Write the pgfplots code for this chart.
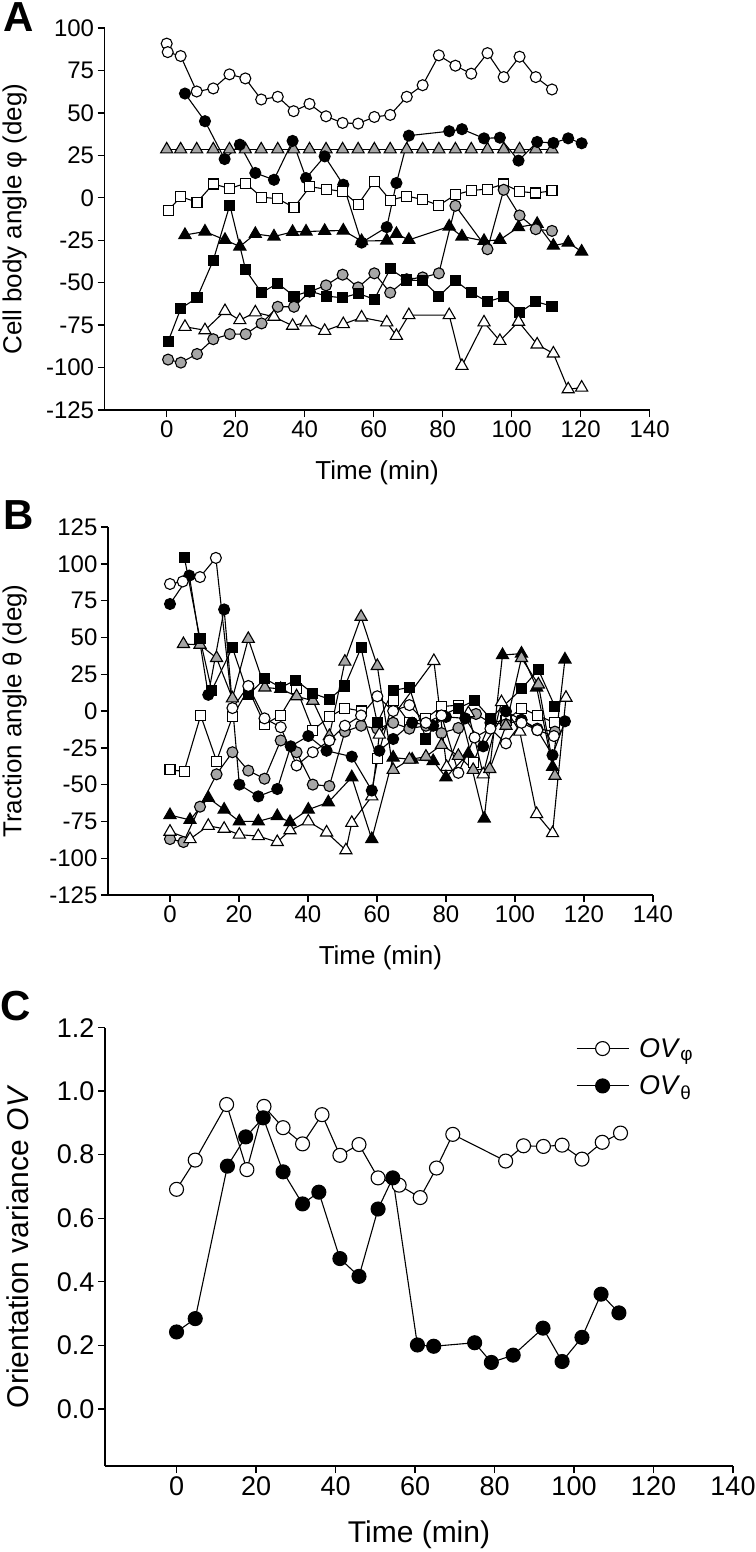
\documentclass[border=0pt]{standalone}
\usepackage{pgfplots}
\pgfplotsset{compat=1.18}
\usepackage{fontspec}
\setmainfont{Liberation Sans}
\definecolor{mygray}{RGB}{166,166,166}
\pgfplotsset{
  base/.style={scale only axis, axis x line*=bottom, axis y line*=left,
    xmin=-18, xmax=140, xtick={0,20,...,140}, tick align=outside,
    major tick length=7pt, axis line style={line width=1.4pt},
    every tick/.style={line width=1.4pt, black},
    /pgf/number format/assume math mode=true, clip=false},
  s/.style={line width=1.1pt, black},
  oc/.style={s, mark=*, mark size=5.5pt, mark options={solid, fill=white, draw=black, line width=1.1pt}},
  bc/.style={s, mark=*, mark size=5.5pt, mark options={solid, fill=black, draw=black, line width=1.1pt}},
  gc/.style={s, mark=*, mark size=5.5pt, mark options={solid, fill=mygray, draw=black, line width=1.1pt}},
  os/.style={s, mark=square*, mark size=5pt, mark options={solid, fill=white, draw=black, line width=1.1pt}},
  bs/.style={s, mark=square*, mark size=5pt, mark options={solid, fill=black, draw=black, line width=1.1pt}},
  ot/.style={s, mark=triangle*, mark size=7pt, mark options={solid, fill=white, draw=black, line width=1.1pt}},
  bt/.style={s, mark=triangle*, mark size=7pt, mark options={solid, fill=black, draw=black, line width=1.1pt}},
  gt/.style={s, mark=triangle*, mark size=7pt, mark options={solid, fill=mygray, draw=black, line width=1.1pt}},
}
\begin{document}
\begin{tikzpicture}
\path[use as bounding box] (0,0) rectangle (755pt,-1552pt);
\node[anchor=north west, inner sep=0pt, font=\bfseries\fontsize{42}{42}\selectfont] at (3pt,-2pt) {A};
\node[anchor=north west, inner sep=0pt, font=\bfseries\fontsize{42}{42}\selectfont] at (3pt,-500pt) {B};
\node[anchor=north west, inner sep=0pt, font=\bfseries\fontsize{42}{42}\selectfont] at (0pt,-991pt) {C};
% ---------------- Panel A
\begin{axis}[base, at={(104.6pt,-410pt)}, anchor=south west, width=545pt, height=382pt,
  ymin=-125, ymax=100, ytick={-125,-100,...,100},
  ticklabel style={font=\fontsize{24}{28}\selectfont},
  label style={font=\fontsize{26}{31}\selectfont},
  xlabel={Time (min)}, ylabel={Cell body angle φ (deg)},
  xlabel style={at={(axis description cs:0.5,-0.165)}, anchor=center},
  ylabel style={at={(axis description cs:-0.165,0.5)}, anchor=center}]
\addplot[oc] coordinates {(0,90.8)(0.3,85.8)(4.05,83.5)(8.7,62.6)(13.5,64.4)(18.2,72.7)(22.8,70.3)(27.4,57.9)(32.2,59.5)(36.8,51.0)(41.4,55.3)(46.2,48.0)(51.0,44.1)(55.5,43.7)(60.2,47.6)(64.8,48.8)(69.6,59.5)(74.2,66.3)(78.9,83.9)(83.7,77.8)(88.3,73.1)(93.0,85.2)(97.7,71.1)(102.3,83.1)(107.0,71.1)(111.7,63.8)};
\addplot[gt] coordinates {(0,28.5)(4.05,28.5)(8.7,28.5)(13.5,28.5)(18.2,28.5)(22.8,28.5)(27.4,28.5)(32.2,28.5)(36.8,28.5)(41.4,28.5)(46.2,28.5)(51.0,28.5)(55.5,28.5)(60.2,28.5)(64.8,28.5)(69.6,28.5)(74.2,28.5)(78.9,28.5)(83.7,28.5)(88.3,28.5)(93.0,28.5)(97.7,28.5)(102.3,28.5)(107.0,28.5)(111.7,28.5)};
\addplot[bc] coordinates {(5.3,61.4)(11.1,45.1)(16.8,22.8)(21.2,31.3)(25.7,14.6)(31.1,10.6)(36.5,33.5)(40.4,11.6)(45.8,24.4)(51.2,7.7)(56.5,-26.4)(63.8,-17.3)(66.6,8.7)(70.2,36.6)(81.9,39.2)(85.6,40.4)(92.0,35.0)(96.6,35.4)(102.0,21.9)(107.4,32.9)(112.1,32.3)(116.4,35.0)(120.3,32.1)};
\addplot[os] coordinates {(0.4,-7.5)(4.1,0.6)(8.8,-2.6)(13.5,8.1)(18.3,5.5)(22.9,8.5)(27.5,0.4)(32.2,-0.6)(36.9,-5.7)(41.5,6.5)(46.2,5.1)(51.0,3.7)(55.5,-3.9)(60.2,9.8)(64.8,-1.4)(69.6,1.0)(74.2,-1.0)(78.9,-4.5)(83.7,1.8)(88.3,4.3)(93.0,5.1)(97.7,8.1)(102.3,3.7)(107.0,2.8)(111.7,4.1)};
\addplot[bt] coordinates {(5.3,-21.9)(11.1,-19.9)(16.9,-24.8)(21.2,-28.7)(25.7,-21.3)(31.1,-22.8)(36.5,-20.1)(40.4,-19.9)(45.8,-19.5)(51.2,-19.3)(56.5,-25.5)(63.8,-25.2)(66.6,-21.3)(70.2,-24.8)(81.9,-16.9)(85.6,-22.8)(92.0,-25.4)(96.6,-24.8)(102.0,-17.3)(107.4,-15.4)(112.1,-28.2)(116.4,-26.4)(120.3,-31.7)};
\addplot[gc] coordinates {(0.4,-95.3)(4.1,-97.1)(8.8,-92.0)(13.5,-83.3)(18.3,-80.3)(22.9,-80.3)(27.5,-74.0)(32.2,-64.2)(36.9,-64.2)(41.5,-55.3)(46.2,-51.6)(51.0,-45.3)(55.5,-52.8)(60.2,-44.5)(64.8,-55.9)(69.6,-48)(74.2,-46.9)(78.9,-44.5)(83.7,-4.7)(93.0,-30.3)(97.7,4.7)(102.3,-10.4)(107.0,-18.5)(111.7,-19.5)};
\addplot[bs] coordinates {(0.4,-84.7)(4.1,-65.2)(8.8,-58.9)(13.5,-36.8)(18.3,-4.3)(22.9,-42.5)(27.5,-55.9)(32.2,-50.4)(36.9,-57.9)(41.5,-54.9)(46.2,-57.9)(51.0,-58.9)(55.5,-56.3)(60.2,-59.8)(64.8,-41.9)(69.6,-48.4)(74.2,-48.8)(78.9,-57.9)(83.7,-48.8)(88.3,-55.9)(93.0,-61.2)(97.7,-58.3)(102.3,-67.5)(107.0,-61.2)(111.7,-63.8)};
\addplot[ot] coordinates {(5.3,-76.0)(11.1,-78.0)(16.9,-66.7)(21.2,-72.1)(25.7,-67.5)(31.1,-70.1)(36.5,-75.4)(40.4,-73.4)(45.8,-78.4)(51.2,-74.4)(56.5,-70.5)(63.8,-73.4)(66.6,-81.3)(70.2,-69.1)(81.9,-69.1)(85.6,-99.0)(92.0,-73.4)(96.6,-84.3)(102.0,-73.0)(107.4,-86.4)(112.1,-91.7)(116.4,-112.8)(120.3,-111.8)};
\end{axis}
% ---------------- Panel B
\begin{axis}[base, at={(107.9pt,-895pt)}, anchor=south west, width=545pt, height=368pt,
  ymin=-125, ymax=125, ytick={-125,-100,...,125},
  ticklabel style={font=\fontsize{24}{28}\selectfont},
  label style={font=\fontsize{26}{31}\selectfont},
  xlabel={Time (min)}, ylabel={Traction angle θ (deg)},
  xlabel style={at={(axis description cs:0.5,-0.171)}, anchor=center},
  ylabel style={at={(axis description cs:-0.171,0.5)}, anchor=center}]
\addplot[os] coordinates {(0,-40)(4.1,-41)(8.9,-3)(13.5,-34)(18.1,-4)(22.7,15)(27.4,-9)(32.1,-3)(36.7,15)(41.4,-13)(46.2,-4)(50.7,2)(55.4,0)(60.1,-32)(64.7,7)(69.4,-8)(74.2,-5)(78.7,3)(83.6,4)(87.9,-35)(92.9,-7.5)(97.4,-6.6)(101.9,2)(106.5,-3)(111.6,-8)};
\addplot[gc] coordinates {(0,-87)(3.9,-89)(8.7,-65)(13.5,-43)(18.1,-28)(22.7,-40.5)(27.4,-46)(32.1,-20)(36.7,-28)(41.4,-50)(46.2,-51)(50.7,-14)(55.4,-10)(60.1,-12)(64.7,-8)(69.4,-12)(74.2,-10)(78.7,-15)(83.6,-11.5)(88.7,-2)(92.9,-8)(97.4,-9)(101.9,-6)(106.5,-12)(111.6,-14)};
\addplot[ot] coordinates {(0,-82)(5.8,-87)(11.1,-78)(15.7,-80)(20.1,-84)(25.6,-85)(31.1,-89)(34.8,-81)(40.1,-75)(45.4,-82.5)(51,-94.6)(52.7,-76)(58.5,-58)(60.7,-16)(76.5,34)(80.2,-38)(86.5,-1.5)(90.8,-43)(96.1,6)(101.4,-14)(106.3,-70)(110.9,-83)(114.8,9)};
\addplot[bt] coordinates {(0,-70.7)(5.8,-74)(11.1,-59)(15.7,-67)(20.1,-75)(25.6,-75)(31.1,-71.4)(34.8,-75.5)(40.1,-67)(45.9,-62)(52.7,-45)(58.5,-87)(64.7,-31.6)(70.2,-33)(76.3,-34)(80,-45)(86.5,-29)(91.1,-73)(96.4,38)(101.9,39)(106.3,16)(110.9,-38)(114.5,35)};
\addplot[gt] coordinates {(3.9,45.5)(8.7,45)(13.5,36)(18.1,8.6)(22.7,49)(27.5,16)(32.1,15)(36.7,10)(41.4,7)(46.2,-17)(50.7,33.5)(55.4,64)(60.1,30.6)(64.7,-40)(69.4,-33)(74.2,-31)(78.7,-23)(83.6,-30.5)(87.9,-40)(92.7,-39.4)(97.4,-10)(101.9,36)(106.8,18)(111.6,-44)};
\addplot[bc] coordinates {(0,72.7)(5.6,92)(11.1,11)(15.7,69)(20.1,-50)(25.6,-58)(31.1,-53)(35,-24)(40.1,-17)(45.4,-27)(52.7,-31)(58.5,-54)(60.7,-27)(64.7,-19)(70.2,-8)(76.3,-10)(80,-4)(85.6,-5)(90.8,-24)(97.4,-0.3)(101.9,-6)(106.5,-13)(110.9,-30)(114.5,-7)};
\addplot[bs] coordinates {(4.2,104)(8.7,49)(12.1,14)(18.1,43)(22.7,11)(27.5,22)(32.1,16)(36.5,21)(41.4,12)(46.2,8)(50.7,17)(55.4,43)(60.1,-8)(64.7,14)(69.4,16)(74.2,-19)(78.7,-3)(83.6,2)(88.3,7)(92.9,-5)(101.9,15)(106.8,28)(111.6,3)};
\addplot[oc] coordinates {(0,86.3)(3.7,88)(8.7,91)(13.3,104)(18.1,2)(22.7,17)(27.4,-5)(32.1,-11)(36.7,-37)(41.4,-28)(46.2,-20)(50.7,-10)(55.4,-3)(60.1,10)(64.7,0)(69.4,4)(74.2,-8)(78.7,-3)(83.6,-42)(88.3,-18)(92.9,-12)(97.4,-22)(101.9,-8)(106.5,-13)(111.3,-17)};
\end{axis}
% ---------------- Panel C
\begin{axis}[base, at={(105pt,-1466pt)}, anchor=south west, width=628pt, height=438.4pt,
  ymin=-0.18, ymax=1.2, ytick={0,0.2,0.4,0.6,0.8,1.0,1.2},
  yticklabel style={/pgf/number format/.cd, fixed, fixed zerofill, precision=1},
  ticklabel style={font=\fontsize{27}{32}\selectfont},
  label style={font=\fontsize{30}{36}\selectfont},
  xlabel={Time (min)}, ylabel={Orientation variance \textit{OV}},
  xlabel style={at={(axis description cs:0.5,-0.157)}, anchor=center},
  ylabel style={at={(axis description cs:-0.1385,0.5)}, anchor=center},
  legend style={at={(axis description cs:0.745,0.985)}, anchor=north west, draw=none, fill=none,
    font=\fontsize{27}{32}\selectfont, row sep=13pt},
  legend cell align=left,
  legend image code/.code={\draw[mark repeat=2, mark phase=2, #1] plot coordinates {(0pt,0pt) (26pt,0pt) (52pt,0pt)};}]
\addplot[oc, mark size=7pt] coordinates {(0,0.691)(4.7,0.783)(12.6,0.958)(17.7,0.753)(22.0,0.952)(26.8,0.885)(31.7,0.834)(36.6,0.926)(41.1,0.798)(45.9,0.832)(50.7,0.727)(56.0,0.704)(61.3,0.665)(65.4,0.758)(69.5,0.864)(82.8,0.780)(87.3,0.828)(92.3,0.826)(97.0,0.830)(102.0,0.786)(107.1,0.839)(111.7,0.868)};
\addlegendentry{\hspace*{8pt}\textit{OV}\textsubscript{φ}}
\addplot[bc, mark size=7pt] coordinates {(0,0.242)(4.7,0.284)(12.8,0.764)(17.4,0.856)(21.8,0.916)(26.8,0.746)(31.7,0.645)(35.8,0.682)(41.1,0.473)(45.9,0.417)(50.7,0.629)(54.4,0.727)(60.6,0.201)(64.7,0.197)(75.0,0.208)(79.2,0.146)(84.7,0.169)(92.2,0.254)(97.0,0.149)(102.0,0.225)(106.8,0.361)(111.3,0.302)};
\addlegendentry{\hspace*{8pt}\textit{OV}\textsubscript{θ}}
\end{axis}
\end{tikzpicture}
\end{document}
